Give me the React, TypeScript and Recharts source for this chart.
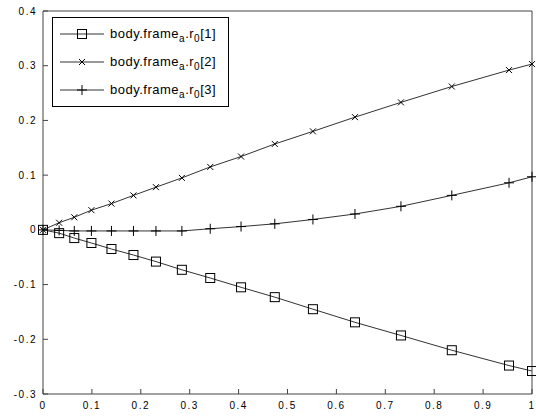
import React from "react";
import { LineChart, Line, XAxis, YAxis } from "recharts";

// sample times shared by all three signals
const times = [0, 0.033, 0.064, 0.099, 0.14, 0.185, 0.231, 0.284, 0.342, 0.405, 0.474, 0.552, 0.638, 0.732, 0.836, 0.953, 1.0];
const r0x = [0, -0.006, -0.015, -0.024, -0.035, -0.046, -0.058, -0.073, -0.088, -0.105, -0.123, -0.145, -0.169, -0.193, -0.22, -0.248, -0.258];
const r0y = [0, 0.013, 0.023, 0.036, 0.048, 0.063, 0.078, 0.095, 0.115, 0.134, 0.157, 0.18, 0.206, 0.233, 0.262, 0.292, 0.303];
const r0z = [0, -0.001, -0.002, -0.002, -0.002, -0.002, -0.002, -0.002, 0.002, 0.006, 0.011, 0.019, 0.029, 0.043, 0.063, 0.086, 0.097];

const xTicks = [0, 0.1, 0.2, 0.3, 0.4, 0.5, 0.6, 0.7, 0.8, 0.9, 1];
const yTicks = [-0.3, -0.2, -0.1, 0, 0.1, 0.2, 0.3, 0.4];

const seriesNames = ["[1]", "[2]", "[3]"];

const data = times.map((t, i) => ({ t, a: r0x[i], b: r0y[i], c: r0z[i] }));

const INK = "#000";
const LINE = "#333";
const AXIS = "#444";

type MarkerKind = "square" | "x" | "plus";

function Marker({ kind, cx, cy }: { kind: MarkerKind; cx: number; cy: number }) {
  if (kind === "square") {
    return <rect x={cx - 4.5} y={cy - 4.5} width={9} height={9} fill="none" stroke={INK} strokeWidth={1} />;
  }
  if (kind === "x") {
    return (
      <path
        d={`M${cx - 3},${cy - 3}L${cx + 3},${cy + 3}M${cx - 3},${cy + 3}L${cx + 3},${cy - 3}`}
        stroke={INK}
        strokeWidth={1}
        fill="none"
      />
    );
  }
  return (
    <path
      d={`M${cx - 5},${cy}L${cx + 5},${cy}M${cx},${cy - 5}L${cx},${cy + 5}`}
      stroke={INK}
      strokeWidth={1}
      fill="none"
    />
  );
}

const dotOf = (kind: MarkerKind) => (p: any) =>
  <Marker key={`${kind}-${p.index}`} kind={kind} cx={p.cx} cy={p.cy} />;

const kinds: MarkerKind[] = ["square", "x", "plus"];
const keys = ["a", "b", "c"];

const tickStyle = { fontSize: 10, fill: INK, fontFamily: "Liberation Sans, Arial, sans-serif", letterSpacing: 1.5 };

function LegendBox() {
  const rows = [34, 62, 90];
  return (
    <svg width={536} height={416} style={{ position: "absolute", left: 0, top: 0, pointerEvents: "none" }}>
      <rect x={52.5} y={17.5} width={176} height={89} fill="#fff" stroke={INK} strokeWidth={1} />
      {rows.map((y, i) => (
        <g key={i}>
          <line x1={60} x2={104} y1={y} y2={y} stroke={LINE} strokeWidth={1} />
          <Marker kind={kinds[i]} cx={82} cy={y} />
          <text
            x={110}
            y={y + 4}
            fontSize={13}
            fontFamily="Liberation Sans, Arial, sans-serif"
            letterSpacing={0.5}
            fill={INK}
          >
            body.frame
            <tspan fontSize={10} dy={4}>a</tspan>
            <tspan dy={-4}>.r</tspan>
            <tspan fontSize={10} dy={4}>0</tspan>
            <tspan dy={-4}>{seriesNames[i]}</tspan>
          </text>
        </g>
      ))}
    </svg>
  );
}

export default function App() {
  return (
    <div style={{ position: "absolute", left: 0, top: 0, width: 536, height: 416, background: "#fff" }}>
      <LineChart width={536} height={416} data={data} margin={{ top: 10, right: 3, bottom: 0, left: 0 }}>
        <XAxis
          dataKey="t"
          type="number"
          domain={[0, 1]}
          ticks={xTicks}
          height={22}
          tickSize={-5}
          tickMargin={13}
          tick={tickStyle}
          axisLine={{ stroke: AXIS }}
          tickLine={{ stroke: AXIS }}
          interval={0}
        />
        <XAxis
          xAxisId="top"
          orientation="top"
          dataKey="t"
          type="number"
          domain={[0, 1]}
          ticks={xTicks}
          height={1}
          tickSize={-5}
          tick={false}
          axisLine={{ stroke: AXIS }}
          tickLine={{ stroke: AXIS }}
          interval={0}
        />
        <YAxis
          type="number"
          domain={[-0.3, 0.4]}
          ticks={yTicks}
          width={43}
          tickSize={-5}
          tickMargin={11}
          tick={tickStyle}
          axisLine={{ stroke: AXIS }}
          tickLine={{ stroke: AXIS }}
          interval={0}
          allowDataOverflow
        />
        <YAxis
          yAxisId="right"
          orientation="right"
          type="number"
          domain={[-0.3, 0.4]}
          ticks={yTicks}
          width={1}
          tickSize={-5}
          tick={false}
          axisLine={{ stroke: AXIS }}
          tickLine={{ stroke: AXIS }}
          interval={0}
          allowDataOverflow
        />
        {keys.map((k, i) => (
          <Line
            key={k}
            type="linear"
            dataKey={k}
            stroke={LINE}
            strokeWidth={1}
            dot={dotOf(kinds[i])}
            activeDot={false}
            isAnimationActive={false}
          />
        ))}
      </LineChart>
      <LegendBox />
    </div>
  );
}
